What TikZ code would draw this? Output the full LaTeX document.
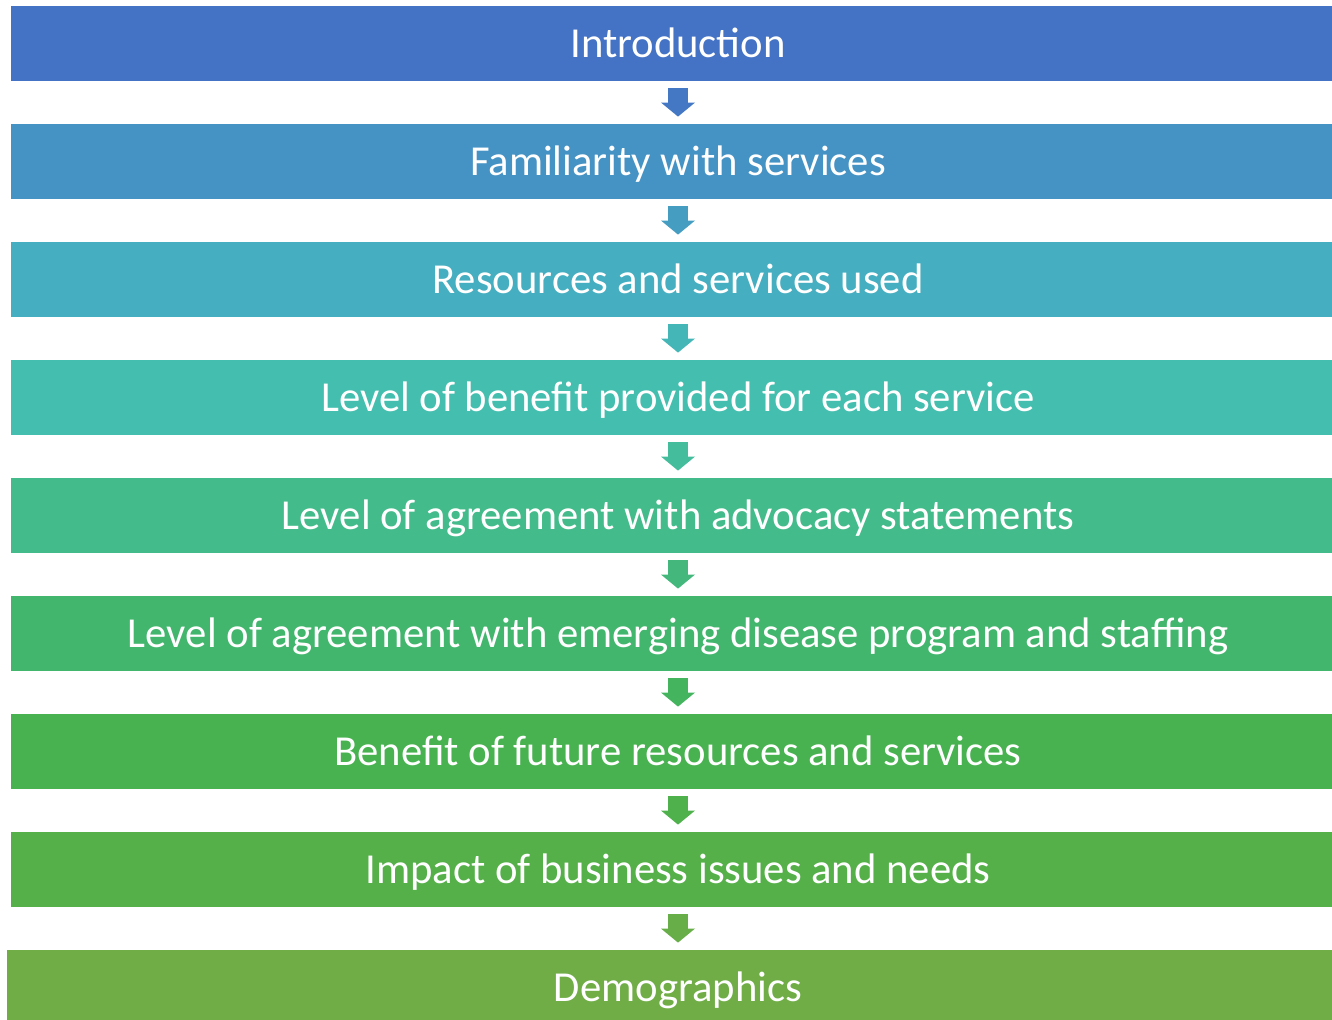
\documentclass[tikz,border=0pt]{standalone}
\usepackage{fontspec}
\setmainfont{Carlito}
\usetikzlibrary{arrows.meta}
\definecolor{stepA}{HTML}{4472C4}
\definecolor{stepB}{HTML}{4592C4}
\definecolor{stepC}{HTML}{45AEC0}
\definecolor{stepD}{HTML}{44BEAE}
\definecolor{stepE}{HTML}{44BB8A}
\definecolor{stepF}{HTML}{43B66E}
\definecolor{stepG}{HTML}{48B250}
\definecolor{stepH}{HTML}{55B049}
\definecolor{stepI}{HTML}{70AD47}
\tikzset{stage/.style={rectangle,draw=none,minimum width=667pt,minimum height=37.5pt,
           inner sep=0pt,text=white,text height=17pt,text depth=3pt,
           font=\fontsize{21.35}{25}\selectfont},
         flow/.style={line width=10pt,
           -{Triangle[length=7pt,width=17pt,line width=0pt 0 0]},
           shorten <=3.5pt,shorten >=3.5pt},
         }

\begin{document}
\begin{tikzpicture}[x=0.5pt,y=-0.5pt]
\useasboundingbox (0,0) rectangle (1332,1020);
\clip (0,0) rectangle (1332,1020);
\node[stage,fill=stepA] (intro)  at (678,43.5)  {Introduction};
\node[stage,fill=stepB] (famil)  at (678,161.5) {Familiarity with services};
\node[stage,fill=stepC] (used)   at (678,279.5) {Resources and services used};
\node[stage,fill=stepD] (benef)  at (678,397.5) {Level of benefit provided for each service};
\node[stage,fill=stepE] (advoc)  at (678,515.5) {Level of agreement with advocacy statements};
\node[stage,fill=stepF] (emerg)  at (678,633.5) {Level of agreement with emerging disease program and staffing};
\node[stage,fill=stepG] (future) at (678,751.5) {Benefit of future resources and services};
\node[stage,fill=stepH] (impact) at (678,869.5) {Impact of business issues and needs};
\node[stage,fill=stepI,minimum width=671pt] (demog) at (678,987.5) {Demographics};
% arrows between the stages
\draw[flow,draw=stepA!80!stepB] (intro) -- (famil);
\draw[flow,draw=stepB!60!stepC] (famil) -- (used);
\draw[flow,draw=stepC!50!stepD] (used) -- (benef);
\draw[flow,draw=stepD!50!stepE] (benef) -- (advoc);
\draw[flow,draw=stepE!50!stepF] (advoc) -- (emerg);
\draw[flow,draw=stepF!50!stepG] (emerg) -- (future);
\draw[flow,draw=stepG!50!stepH] (future) -- (impact);
\draw[flow,draw=stepH!35!stepI] (impact) -- (demog);
\end{tikzpicture}
\end{document}
